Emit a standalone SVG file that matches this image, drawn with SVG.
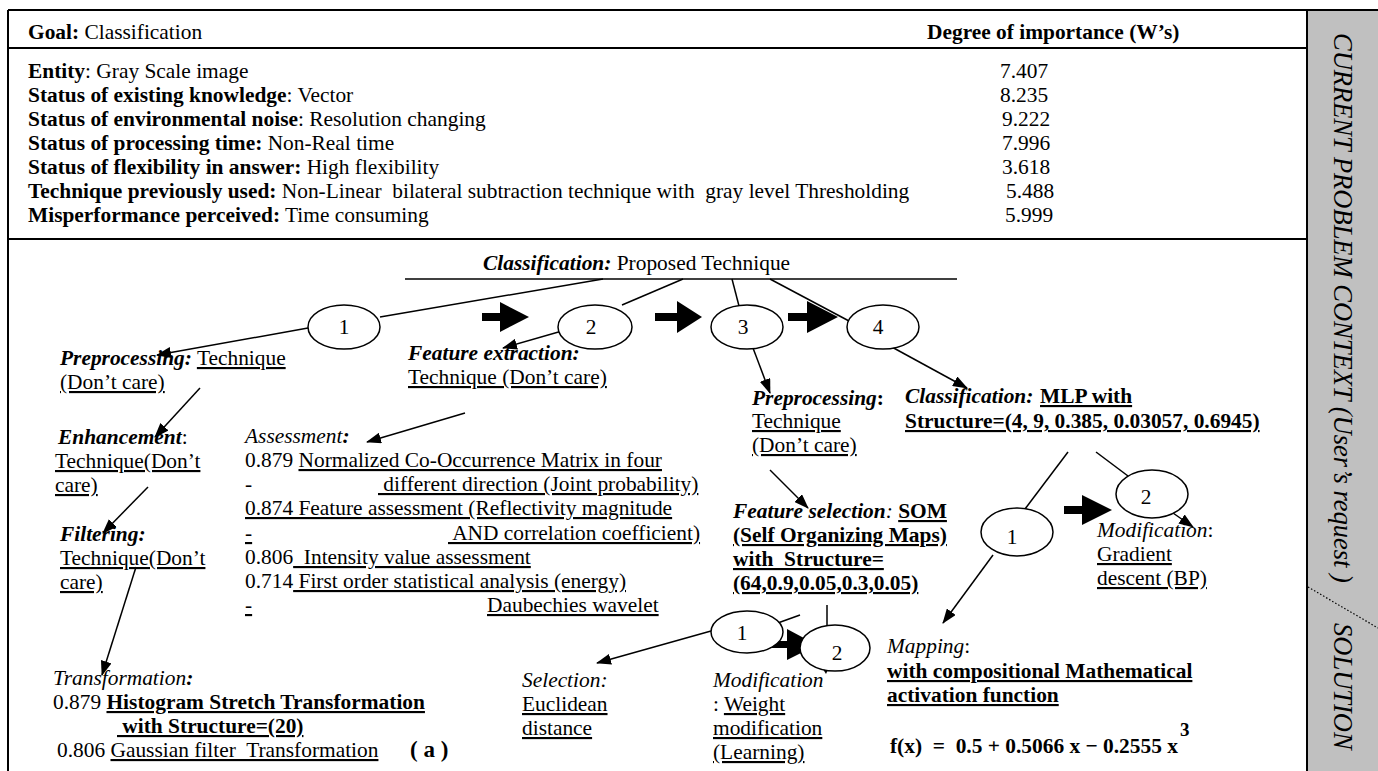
<svg xmlns="http://www.w3.org/2000/svg" width="1378" height="771" viewBox="0 0 1378 771">
<style>
.t{font-family:"Liberation Serif","Times New Roman",serif;font-size:21.4px;fill:#000}
.sb{font-family:"Liberation Serif","Times New Roman",serif;font-size:26.5px;font-style:italic;fill:#000}
.b{font-weight:bold}
.i{font-style:italic}
.u{text-decoration:underline}
.ln{stroke:#000;stroke-width:1.5;fill:none}
.fr{stroke:#000;stroke-width:2;fill:none}
.el{fill:#fff;stroke:#000;stroke-width:1.5}
.blk{fill:#000;stroke:none}
</style>
<defs>
<marker id="ah" markerUnits="userSpaceOnUse" markerWidth="15" markerHeight="11" refX="14" refY="5.5" orient="auto">
<path d="M0,0 L15,5.5 L0,11 z" fill="#000"/>
</marker>
</defs>

<g id="frame">
<rect x="1307" y="10" width="71" height="761" fill="#c0c0c0"/>
<line class="fr" x1="8" y1="10" x2="1378" y2="10"/>
<line class="fr" x1="8" y1="10" x2="8" y2="771"/>
<line class="fr" x1="1307" y1="10" x2="1307" y2="771"/>
<line class="fr" x1="8" y1="48" x2="1307" y2="48"/>
<line class="fr" x1="8" y1="239" x2="1307" y2="239"/>
<line x1="1308" y1="587" x2="1378" y2="628" stroke="#000" stroke-width="1.2" stroke-dasharray="1.5,2"/>
</g>

<g id="sidebar">
<text class="sb" transform="translate(1334,33) rotate(90)" xml:space="preserve">CURRENT PROBLEM CONTEXT (User’s request )</text>
<text class="sb" transform="translate(1334,623) rotate(90)">SOLUTION</text>
</g>

<g id="table">
<text class="t" x="28" y="39"><tspan class="b">Goal:</tspan> Classification</text>
<text class="t b" x="927" y="39">Degree of importance (W’s)</text>
<text class="t" x="28" y="78"><tspan class="b">Entity</tspan>: Gray Scale image</text>
<text class="t" x="28" y="102"><tspan class="b">Status of existing knowledge</tspan>: Vector</text>
<text class="t" x="28" y="126"><tspan class="b">Status of environmental noise</tspan>: Resolution changing</text>
<text class="t" x="28" y="150"><tspan class="b">Status of processing time:</tspan> Non-Real time</text>
<text class="t" x="28" y="174"><tspan class="b">Status of flexibility in answer:</tspan> High flexibility</text>
<text class="t" x="28" y="198" xml:space="preserve"><tspan class="b">Technique previously used:</tspan> Non-Linear  bilateral subtraction technique with  gray level Thresholding</text>
<text class="t" x="28" y="222"><tspan class="b">Misperformance perceived:</tspan> Time consuming</text>
<text class="t" x="1000" y="78">7.407</text>
<text class="t" x="1000" y="102">8.235</text>
<text class="t" x="1002" y="126">9.222</text>
<text class="t" x="1002" y="150">7.996</text>
<text class="t" x="1002" y="174">3.618</text>
<text class="t" x="1006" y="198">5.488</text>
<text class="t" x="1005" y="222">5.999</text>
</g>

<g id="connectors">
<line class="ln" x1="405" y1="279" x2="957" y2="279"/>
<line class="ln" x1="603" y1="279" x2="380" y2="317"/>
<line class="ln" x1="683" y1="279" x2="622" y2="305"/>
<line class="ln" x1="732" y1="279" x2="739" y2="306"/>
<line class="ln" x1="770" y1="279" x2="849" y2="321"/>
<line class="ln" x1="800" y1="615" x2="775" y2="624"/>
<line class="ln" x1="827" y1="605" x2="827" y2="626"/>
<line class="ln" x1="1068" y1="452" x2="1025" y2="509"/>
<line class="ln" x1="1096" y1="452" x2="1128" y2="476"/>
<line class="ln" x1="308" y1="328" x2="157" y2="355" marker-end="url(#ah)"/>
<line class="ln" x1="562" y1="331" x2="503" y2="348" marker-end="url(#ah)"/>
<line class="ln" x1="753" y1="348" x2="770" y2="393" marker-end="url(#ah)"/>
<line class="ln" x1="890" y1="346" x2="967" y2="388" marker-end="url(#ah)"/>
<line class="ln" x1="200" y1="388" x2="155" y2="437" marker-end="url(#ah)"/>
<line class="ln" x1="465" y1="413" x2="367" y2="442" marker-end="url(#ah)"/>
<line class="ln" x1="148" y1="487" x2="103" y2="533" marker-end="url(#ah)"/>
<line class="ln" x1="136" y1="567" x2="102" y2="675" marker-end="url(#ah)"/>
<line class="ln" x1="770" y1="470" x2="808" y2="508" marker-end="url(#ah)"/>
<line class="ln" x1="711" y1="631" x2="597" y2="663" marker-end="url(#ah)"/>
<line class="ln" x1="1173" y1="513" x2="1193" y2="527" marker-end="url(#ah)"/>
<line class="ln" x1="993" y1="555" x2="943" y2="623" marker-end="url(#ah)"/>
<polygon class="blk" points="818,661 833,659 826,674"/>
<rect class="blk" x="482" y="313" width="19" height="8"/>
<polygon class="blk" points="500,302 529,317 500,332"/>
<rect class="blk" x="655" y="313" width="23" height="8"/>
<polygon class="blk" points="677,301 702,317 677,333"/>
<rect class="blk" x="788" y="313" width="20" height="8"/>
<polygon class="blk" points="807,301 838,317 807,333"/>
<rect class="blk" x="770" y="641" width="20" height="7"/>
<polygon class="blk" points="787,629 817,645 787,660"/>
<rect class="blk" x="1064" y="506" width="19" height="8"/>
<polygon class="blk" points="1082,495 1112,510 1082,525"/>
</g>

<g id="title">
<text class="t" x="483" y="270"><tspan class="b i">Classification:</tspan> Proposed Technique</text>
</g>

<g id="n1"><ellipse class="el" cx="344" cy="327" rx="36" ry="22"/><text class="t" x="344" y="334" text-anchor="middle">1</text></g>
<g id="n2"><ellipse class="el" cx="595" cy="327" rx="37" ry="22"/><text class="t" x="591" y="334" text-anchor="middle">2</text></g>
<g id="n3"><ellipse class="el" cx="747" cy="327" rx="36" ry="22"/><text class="t" x="743" y="334" text-anchor="middle">3</text></g>
<g id="n4"><ellipse class="el" cx="883" cy="327" rx="36" ry="22"/><text class="t" x="878" y="334" text-anchor="middle">4</text></g>
<g id="som1"><ellipse class="el" cx="747" cy="632" rx="36" ry="21"/><text class="t" x="742" y="640" text-anchor="middle">1</text></g>
<g id="som2"><ellipse class="el" cx="835" cy="648" rx="35" ry="23"/><text class="t" x="837" y="660" text-anchor="middle">2</text></g>
<g id="mlp1"><ellipse class="el" cx="1017" cy="532" rx="36" ry="24"/><text class="t" x="1012" y="544" text-anchor="middle">1</text></g>
<g id="mlp2"><ellipse class="el" cx="1152" cy="494" rx="36" ry="24"/><text class="t" x="1146" y="504" text-anchor="middle">2</text></g>

<g id="preproc1">
<text class="t" x="60" y="365"><tspan class="b i">Preprocessing:</tspan> <tspan class="u">Technique</tspan></text>
<text class="t u" x="60" y="389">(Don’t care)</text>
</g>
<g id="enhance">
<text class="t" x="58" y="444"><tspan class="b i">Enhancement</tspan>:</text>
<text class="t u" x="55" y="468">Technique(Don’t</text>
<text class="t u" x="55" y="492">care)</text>
</g>
<g id="filter">
<text class="t b i" x="60" y="541">Filtering:</text>
<text class="t u" x="60" y="565">Technique(Don’t</text>
<text class="t u" x="60" y="589">care)</text>
</g>
<g id="transform">
<text class="t" x="53" y="685"><tspan class="i">Transformation</tspan><tspan class="b i">:</tspan></text>
<text class="t" x="53" y="709">0.879 <tspan class="b u">Histogram Stretch Transformation</tspan></text>
<text class="t b u" x="117" y="733" xml:space="preserve"> with Structure=(20)</text>
<text class="t" x="57" y="757">0.806 <tspan class="u" xml:space="preserve">Gaussian filter  Transformation</tspan></text>
<text class="t b" x="410" y="757" style="font-size:23px" xml:space="preserve">( a )</text>
</g>
<g id="featext">
<text class="t b i" x="408" y="360">Feature extraction:</text>
<text class="t u" x="408" y="384">Technique (Don’t care)</text>
</g>
<g id="assess">
<text class="t" x="245" y="443"><tspan class="i">Assessment</tspan><tspan class="b i">:</tspan></text>
<text class="t" x="245" y="467">0.879 <tspan class="u">Normalized Co-Occurrence Matrix in four</tspan></text>
<text class="t" x="245" y="491">-<tspan class="u" x="378" xml:space="preserve"> different direction (Joint probability)</tspan></text>
<text class="t u" x="245" y="515">0.874 Feature assessment (Reflectivity magnitude</text>
<text class="t" x="245" y="540"><tspan class="u">-</tspan><tspan class="u" x="448" xml:space="preserve"> AND correlation coefficient)</tspan></text>
<text class="t" x="245" y="564">0.806<tspan class="u" xml:space="preserve">  Intensity value assessment</tspan></text>
<text class="t" x="245" y="588">0.714<tspan class="u" xml:space="preserve"> First order statistical analysis (energy)</tspan></text>
<text class="t" x="245" y="612"><tspan class="u">-</tspan><tspan class="u" x="487">Daubechies wavelet</tspan></text>
</g>
<g id="preproc2">
<text class="t" x="752" y="405"><tspan class="b i">Preprocessing</tspan><tspan class="b">:</tspan></text>
<text class="t u" x="752" y="428">Technique</text>
<text class="t u" x="752" y="452">(Don’t care)</text>
</g>
<g id="classif">
<text class="t" x="905" y="403"><tspan class="b i">Classification:</tspan><tspan class="b u" x="1040">MLP with</tspan></text>
<text class="t b u" x="905" y="428">Structure=(4, 9, 0.385, 0.03057, 0.6945)</text>
</g>
<g id="featsel">
<text class="t" x="733" y="518"><tspan class="b i">Feature selection</tspan><tspan class="i">:</tspan> <tspan class="b u">SOM</tspan></text>
<text class="t b u" x="733" y="542">(Self Organizing Maps)</text>
<text class="t b u" x="733" y="566" xml:space="preserve">with  Structure=</text>
<text class="t b u" x="733" y="590">(64,0.9,0.05,0.3,0.05)</text>
</g>
<g id="selection">
<text class="t i" x="522" y="687">Selection:</text>
<text class="t u" x="522" y="711">Euclidean</text>
<text class="t u" x="522" y="735">distance</text>
</g>
<g id="modsom">
<text class="t i" x="713" y="687">Modification</text>
<text class="t" x="713" y="711">: <tspan class="u">Weight</tspan></text>
<text class="t u" x="713" y="735">modification</text>
<text class="t u" x="713" y="759">(Learning)</text>
</g>
<g id="modmlp">
<text class="t" x="1097" y="537"><tspan class="i">Modification</tspan>:</text>
<text class="t u" x="1097" y="561">Gradient</text>
<text class="t u" x="1097" y="585">descent (BP)</text>
</g>
<g id="mapping">
<text class="t" x="887" y="653"><tspan class="i">Mapping</tspan>:</text>
<text class="t b u" x="887" y="678">with compositional Mathematical</text>
<text class="t b u" x="887" y="702">activation function</text>
<text class="t b" x="890" y="753" xml:space="preserve">f(x)  =  0.5 + 0.5066 x − 0.2555 x<tspan font-size="19" dx="2" dy="-17">3</tspan></text>
</g>
</svg>
